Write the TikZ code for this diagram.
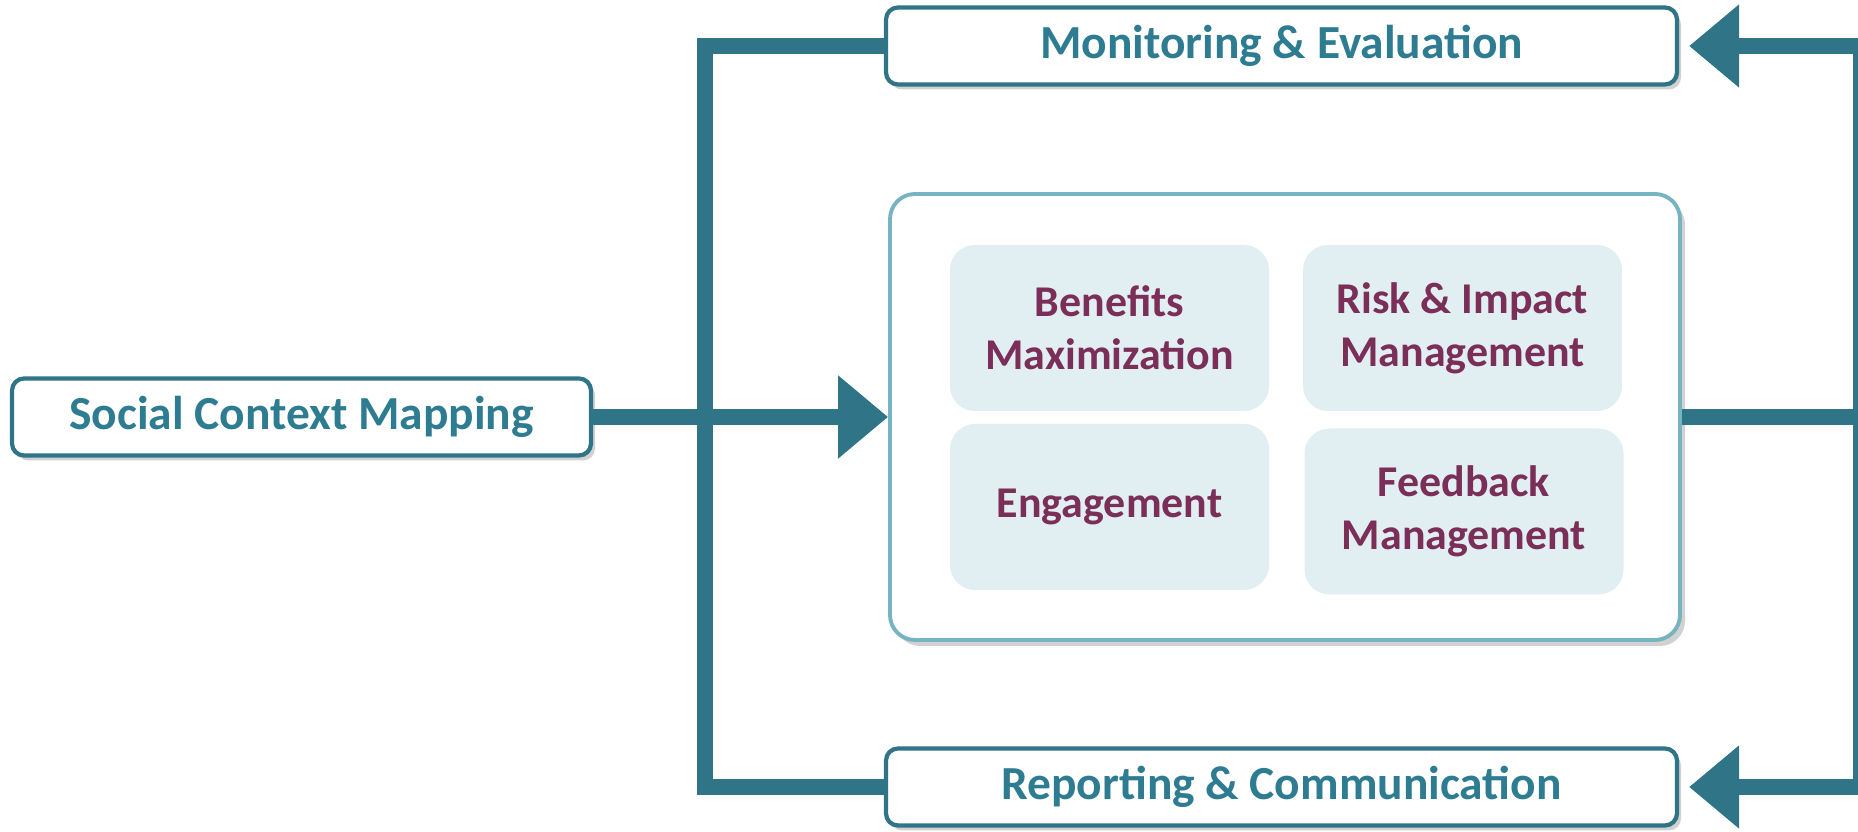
\documentclass[tikz,border=0pt]{standalone}
\usepackage{fontspec}
\setmainfont{Carlito}
\usetikzlibrary{arrows.meta,shadows}
\definecolor{LineTeal}{RGB}{47,116,135}
\definecolor{TextTeal}{RGB}{46,124,145}
\definecolor{BoxEdge}{RGB}{118,180,194}
\definecolor{CellFill}{RGB}{225,238,242}
\definecolor{CellText}{RGB}{122,46,88}

\begin{document}
\begin{tikzpicture}
				\useasboundingbox (0,0) rectangle (18.58,-8.32);
				\tikzstyle{stage}=[draw=LineTeal, line width=1.2pt, fill=white, rounded corners=0.12cm, minimum height=0.77cm, text=TextTeal, font=\fontsize{13.5}{16}\selectfont\bfseries, drop shadow={shadow xshift=0.04cm, shadow yshift=-0.05cm, fill=black!40, opacity=0.45}];
				\tikzstyle{cell}=[fill=CellFill, rounded corners=0.25cm, minimum width=3.19cm, minimum height=1.66cm, text=CellText, align=center, font=\fontsize{12.5}{15}\selectfont\bfseries];
				\tikzstyle{flow}=[draw=LineTeal, line width=0.16cm];
				\tikzstyle{head}=[-{Triangle[length=0.5cm, width=0.8cm]}];
				\node [stage, minimum width=7.91cm] (mon) at (12.815, -0.46) {Monitoring \& Evaluation};
				\node [stage, minimum width=7.91cm] (rep) at (12.815, -7.87) {Reporting \& Communication};
				\node [stage, minimum width=5.79cm] (scm) at (3.015, -4.17) {Social Context Mapping};
				\node [draw=BoxEdge, line width=1.1pt, fill=white, rounded corners=0.25cm, minimum width=7.9cm, minimum height=4.46cm, drop shadow={shadow xshift=0.05cm, shadow yshift=-0.06cm, fill=black!40, opacity=0.45}] (core) at (12.85, -4.17) {};
				\node [cell] (ben) at (11.095, -3.28) {Benefits\\Maximization};
				\node [cell] (risk) at (14.625, -3.28) {Risk \& Impact\\Management};
				\node [cell] (eng) at (11.095, -5.07) {Engagement};
				\node [cell] (fb) at (14.64, -5.115) {Feedback\\Management};
				\coordinate (lbus) at (7.05, -4.17);
				\coordinate (rbus) at (18.61, -4.17);
				\draw [flow] (mon.west) -| (lbus) |- (rep.west);
				\draw [flow, head] (scm.east) -- (core.west);
				\draw [flow] (core.east) -- (rbus);
				\draw [flow, head, shorten >=0.1cm] (rbus) |- (mon.east);
				\draw [flow, head, shorten >=0.1cm] (rbus) |- (rep.east);
\end{tikzpicture}
\end{document}
